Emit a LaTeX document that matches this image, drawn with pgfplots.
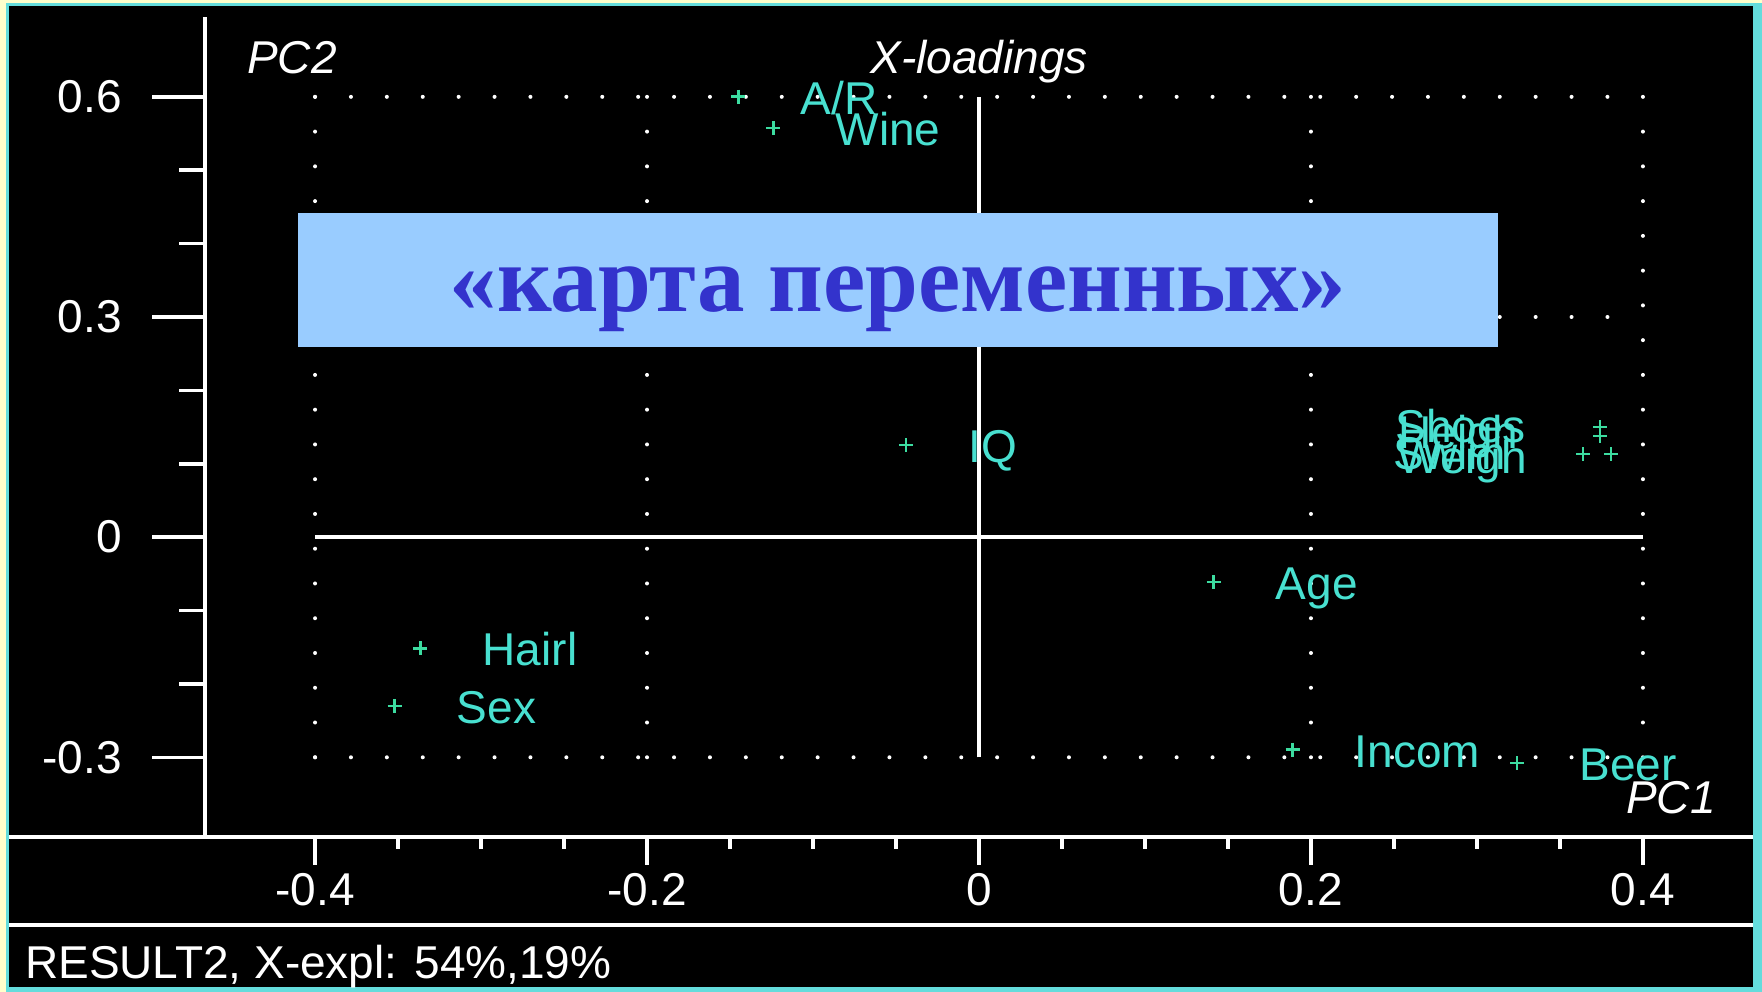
\documentclass[border=0pt]{standalone}
\usepackage{fontspec}
\setmainfont{Liberation Sans}
\newfontfamily\boxfont{Liberation Serif}
\usepackage{pgfplots}
\pgfplotsset{compat=1.18}

\definecolor{lblcol}{RGB}{72,224,208}
\definecolor{ptcol}{RGB}{60,220,160}
\definecolor{boxcol}{RGB}{153,204,255}
\definecolor{txtcol}{RGB}{51,51,204}
\definecolor{framecyan}{RGB}{100,220,220}
\definecolor{frameyel}{RGB}{255,255,204}

\newcommand\sz{\fontsize{46}{50}\selectfont}

\pgfplotsset{
    plotframe/.style={
        at={(205pt,155pt)}, anchor=south west,
        scale only axis, width=1548pt, height=820pt,
        xmin=-0.4663, xmax=0.4663,
        ymin=-0.4086, ymax=0.7088,
        every tick/.style={white, line width=3.5pt},
        tick label style={font=\sz, white, inner sep=0pt},
        clip=false,
    },
    % applied after the axis line keys, which reset them
    noarrows/.style={
        axis line style={-, white, line width=3.5pt},
        every outer x axis line/.append style={-},
        every outer y axis line/.append style={-},
        every inner x axis line/.append style={-},
        every inner y axis line/.append style={-},
        x axis line style={-}, y axis line style={-},
        tick align=outside,
    },
}

\begin{document}
\begin{tikzpicture}
% frame and background (1pt = 1px, y counted from the bottom)
\fill[frameyel] (0pt,0pt) rectangle (1762pt,992pt);
\fill[framecyan] (6pt,0pt) rectangle (1762pt,989pt);
\fill[black] (9pt,5pt) rectangle (1753pt,986pt);

% y axis with its long ticks
\begin{axis}[plotframe,
    axis x line=none, axis y line=left, noarrows,
    ytick={-0.3,0,0.3,0.6},
    yticklabels={-0.3,0,0.3,0.6},
    yticklabel style={anchor=east, xshift=-30pt},
    minor ytick={-0.2,-0.1,0.1,0.2,0.4,0.5},
    major tick length=53pt, minor tick length=26pt,
]
\end{axis}

\begin{axis}[plotframe,
    axis x line=bottom, axis y line=none, noarrows,
    xtick={-0.4,-0.2,0,0.2,0.4},
    xticklabels={-0.4,-0.2,0,0.2,0.4},
    xticklabel style={anchor=north, yshift=-8pt},
    minor xtick={-0.35,-0.3,-0.25,-0.15,-0.1,-0.05,0.05,0.1,0.15,0.25,0.3,0.35},
    major tick length=28pt, minor tick length=12pt,
]
% dotted reference grid
\addplot[white, line width=4pt, line cap=round, dash pattern=on 0pt off 35.9pt] coordinates {(-0.4,0.6) (0.4,0.6)};
\addplot[white, line width=4pt, line cap=round, dash pattern=on 0pt off 35.9pt] coordinates {(-0.4,0.3) (0.4,0.3)};
\addplot[white, line width=4pt, line cap=round, dash pattern=on 0pt off 35.9pt] coordinates {(-0.4,-0.3) (0.4,-0.3)};
\addplot[white, line width=4pt, line cap=round, dash pattern=on 0pt off 34.76pt] coordinates {(-0.4,0.6) (-0.4,-0.3)};
\addplot[white, line width=4pt, line cap=round, dash pattern=on 0pt off 34.76pt] coordinates {(-0.2,0.6) (-0.2,-0.3)};
\addplot[white, line width=4pt, line cap=round, dash pattern=on 0pt off 34.76pt] coordinates {(0.2,0.6) (0.2,-0.3)};
\addplot[white, line width=4pt, line cap=round, dash pattern=on 0pt off 34.76pt] coordinates {(0.4,0.6) (0.4,-0.3)};
% solid zero lines
\addplot[white, line width=3.5pt] coordinates {(0,-0.3) (0,0.6)};
\addplot[white, line width=3.5pt] coordinates {(-0.4,0) (0.4,0)};

% loadings with labels
\addplot[only marks, mark=+, mark size=7pt, ptcol, mark options={line width=2.5pt},
    point meta=explicit symbolic, nodes near coords,
    nodes near coords style={lblcol, font=\sz, anchor=base west, inner sep=0pt, xshift=61pt, yshift=-17.5pt}]
    table[meta=label] {
x        y        label
-0.1449  0.6003   A/R
-0.1239  0.5574   Wine
-0.0440  0.1255   IQ
 0.1414 -0.0612   Age
-0.3365 -0.1517   Hairl
-0.3520 -0.2298   Sex
 0.1889 -0.2894   Incom
 0.3242 -0.3078   Beer
};
% the crowded group on the right
\addplot[only marks, mark=+, mark size=7pt, ptcol, mark options={line width=2.5pt}] coordinates {
    (0.3742,0.1500) (0.3742,0.1378) (0.3640,0.1132) (0.3809,0.1132)
};
\node[lblcol, font=\sz, anchor=base west, inner sep=0pt, yshift=-17.5pt] at (axis cs:0.2507,0.1528) {Shoes};
\node[lblcol, font=\sz, anchor=base west, inner sep=0pt, yshift=-17.5pt] at (axis cs:0.2525,0.1446) {Heigh};
\node[lblcol, font=\sz, anchor=base west, inner sep=0pt, yshift=-17.5pt] at (axis cs:0.2495,0.1160) {Swim};
\node[lblcol, font=\sz, anchor=base west, inner sep=0pt, yshift=-17.5pt] at (axis cs:0.2520,0.1105) {Weigh};
\end{axis}

% separator lines
\draw[white, line width=3.5pt] (9pt,155pt) -- (1753pt,155pt);
\draw[white, line width=3.5pt] (9pt,67pt) -- (1753pt,67pt);

% titles
\node[white, font=\sz\itshape, anchor=base west, inner sep=0pt] at (247pt,918.5pt) {PC2};
\node[white, font=\sz\itshape, anchor=base, inner sep=0pt] at (979pt,918.5pt) {X-loadings};
\node[white, font=\sz\itshape, anchor=base west, inner sep=0pt] at (1626pt,178.5pt) {PC1};
\node[white, font=\sz, anchor=base west, inner sep=0pt] at (25pt,13.5pt) {RESULT2, X-expl: 54\%,19\%};

% overlay caption
\fill[boxcol] (297.8pt,644.5pt) rectangle (1497.9pt,779pt);
\node[txtcol, font=\boxfont\bfseries\fontsize{95}{100}\selectfont, anchor=base, inner sep=0pt] at (898pt,680pt) {«карта переменных»};
\end{tikzpicture}
\end{document}
